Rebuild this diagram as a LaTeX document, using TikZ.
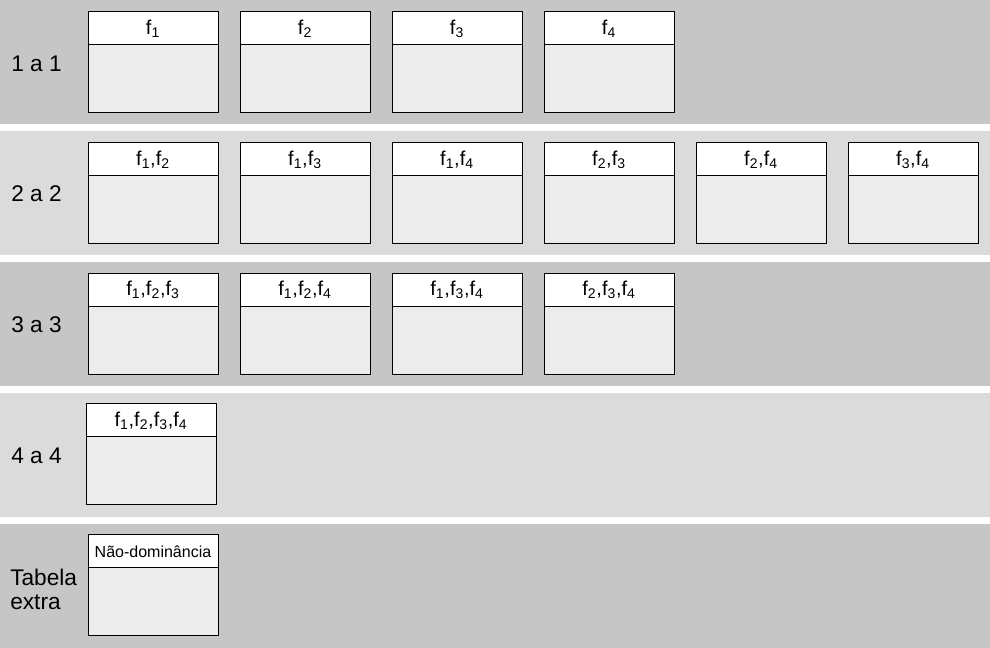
\documentclass[tikz,border=0pt]{standalone}
\usepackage{fontspec}
\setmainfont{Liberation Sans}
\usetikzlibrary{positioning}

\definecolor{bandDark}{RGB}{198,198,198}
\definecolor{bandLight}{RGB}{219,219,219}
\definecolor{bodyGray}{RGB}{236,236,236}

\newcommand{\fsub}[1]{f\textsubscript{#1}}

\tikzset{
  head/.style={draw, line width=0.75pt, fill=white, outer sep=0pt, inner sep=0pt,
    minimum width=97.5pt, minimum height=24.75pt, font=\fontsize{15}{17}\selectfont},
  body/.style={draw, line width=0.75pt, fill=bodyGray, outer sep=0pt, inner sep=0pt,
    minimum width=97.5pt, minimum height=51pt},
  rowlabel/.style={anchor=west, align=left, inner sep=0pt, font=\fontsize{17}{18}\selectfont}
}

\begin{document}
\begin{tikzpicture}[x=0.75pt, y=-0.75pt]
\useasboundingbox[fill=white] (0,0) rectangle (990,648);

% bands
\foreach \r/\c in {0/bandDark,1/bandLight,2/bandDark,3/bandLight,4/bandDark} {
	\fill[\c] (0,131*\r) rectangle (990,131*\r+124);
}

% row labels
\node[rowlabel] (l1) at (11,64) {1 a 1};
\node[rowlabel] (l2) at (11,194) {2 a 2};
\node[rowlabel] (l3) at (11,325) {3 a 3};
\node[rowlabel] (l4) at (11,456) {4 a 4};
\node[rowlabel] (l5) at (10,589) {Tabela\\extra};

% 1 a 1
\foreach \t [count=\i] in {\fsub{1},\fsub{2},\fsub{3},\fsub{4}} {
	\node[head] (h1\i) at (153+152*\i-152,28.5) {\t};
	\node[body, below=0pt of h1\i] (b1\i) {};
}

% 2 a 2
\foreach \t [count=\i] in {{\fsub{1},\fsub{2}},{\fsub{1},\fsub{3}},{\fsub{1},\fsub{4}},{\fsub{2},\fsub{3}},{\fsub{2},\fsub{4}},{\fsub{3},\fsub{4}}} {
	\node[head] (h2\i) at (153+152*\i-152,159.5) {\t};
	\node[body, below=0pt of h2\i] (b2\i) {};
}

% 3 a 3
\foreach \t [count=\i] in {{\fsub{1},\fsub{2},\fsub{3}},{\fsub{1},\fsub{2},\fsub{4}},{\fsub{1},\fsub{3},\fsub{4}},{\fsub{2},\fsub{3},\fsub{4}}} {
	\node[head] (h3\i) at (153+152*\i-152,290) {\t};
	\node[body, below=0pt of h3\i] (b3\i) {};
}

% 4 a 4
\node[head] (h41) at (151,420.5) {\fsub{1},\fsub{2},\fsub{3},\fsub{4}};
\node[body, below=0pt of h41] (b41) {};

% tabela extra
\node[head, font=\fontsize{12}{14}\selectfont] (h51) at (153,551.5) {Não-dominância};
\node[body, below=0pt of h51] (b51) {};
\end{tikzpicture}
\end{document}
